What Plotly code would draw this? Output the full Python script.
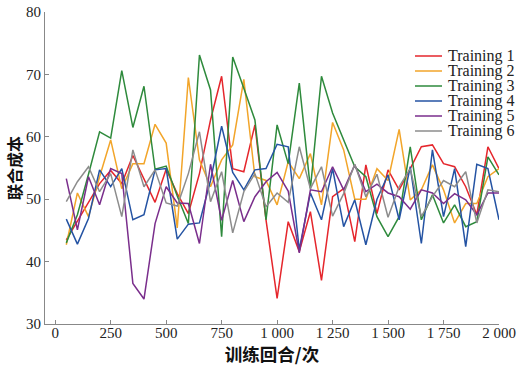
import plotly.graph_objects as go

episodes = list(range(50, 2001, 50))

training1 = [43.5, 46.5, 49.5, 52.5, 54.6, 52.5, 57.0, 53.3, 49.5, 54.8, 50.9, 47.7, 54.1, 62.7, 69.7, 54.9, 54.4, 61.9, 46.7, 34.1,
             46.4, 41.6, 48.0, 37.0, 50.4, 51.7, 43.2, 55.5, 47.7, 54.7, 51.5, 54.9, 58.4, 58.7, 55.7, 55.2, 52.0, 47.5, 58.4, 54.9]
training2 = [42.7, 51.0, 47.2, 53.6, 59.5, 51.7, 55.7, 55.7, 62.0, 59.0, 45.4, 69.5, 56.3, 52.0, 56.3, 58.7, 69.2, 53.6, 53.0, 49.1,
             56.0, 53.3, 57.3, 49.1, 62.3, 57.9, 50.0, 50.0, 54.9, 53.0, 61.2, 49.9, 51.5, 55.5, 51.5, 46.2, 49.3, 49.3, 53.6, 54.9]
training3 = [43.0, 47.5, 54.0, 60.8, 59.8, 70.6, 61.5, 68.1, 54.8, 55.3, 50.5, 46.1, 73.1, 67.5, 44.0, 72.8, 67.8, 62.7, 46.7, 61.9,
             55.7, 68.6, 51.7, 69.7, 63.8, 59.5, 55.2, 53.6, 47.2, 44.0, 47.2, 58.4, 46.7, 50.7, 46.2, 49.1, 45.6, 46.4, 56.8, 53.9]
training4 = [46.8, 42.8, 46.9, 54.7, 52.0, 54.9, 46.7, 47.5, 54.7, 54.9, 43.6, 46.0, 46.2, 53.0, 61.7, 54.3, 51.5, 54.7, 54.9, 58.8,
             58.4, 41.9, 51.0, 46.7, 54.9, 45.6, 49.9, 42.7, 50.0, 53.9, 46.7, 55.2, 42.9, 57.9, 47.2, 54.9, 42.4, 55.6, 54.9, 46.7]
training5 = [53.3, 45.1, 53.6, 49.1, 54.9, 54.1, 36.5, 34.0, 46.1, 52.0, 49.4, 49.3, 42.9, 55.6, 46.6, 53.0, 46.4, 50.4, 52.8, 54.3,
             51.3, 41.4, 51.5, 51.2, 55.2, 51.5, 55.5, 51.2, 52.4, 51.0, 50.4, 48.4, 51.5, 51.0, 49.3, 50.9, 49.9, 47.5, 51.0, 51.0]
training6 = [49.6, 52.8, 55.2, 51.2, 54.1, 47.2, 57.9, 52.0, 54.7, 49.4, 48.9, 54.1, 60.8, 49.6, 54.4, 44.6, 51.2, 54.1, 48.8, 51.0,
             49.5, 58.4, 51.7, 55.2, 47.3, 50.9, 55.6, 50.4, 54.0, 47.1, 52.0, 54.9, 47.2, 50.4, 53.0, 52.0, 54.4, 46.2, 51.5, 51.2]

series_names = ["Training 1", "Training 2", "Training 3", "Training 4", "Training 5", "Training 6"]
series_values = [training1, training2, training3, training4, training5, training6]
colors = ["#e5262c", "#f2a52a", "#2e8a3c", "#2453a3", "#7a2e8c", "#8c8c8c"]

x_tickvals = [0, 250, 500, 750, 1000, 1250, 1500, 1750, 2000]
x_ticktext = ["0", "250", "500", "750", "1 000", "1 250", "1 500", "1 750", "2 000"]
y_tickvals = [30, 40, 50, 60, 70, 80]

W, H = 521, 366
ML, MR, MT, MB = 45, 22, 12, 42
PW, PH = W - ML - MR, H - MT - MB

def px_x(px):
    return (px - ML) / PW

def px_y(py):
    return 1 - (py - MT) / PH

fig = go.Figure()
for name, vals, col in zip(series_names, series_values, colors):
    fig.add_trace(go.Scatter(x=episodes, y=vals, mode="lines", name=name,
                             line=dict(color=col, width=1.5), showlegend=False))

serif = "Liberation Serif, Times New Roman, serif"
cjk = "Noto Sans CJK SC"

# legend drawn as shapes + text (15 px row spacing as in the reference)
shapes = []
annotations = []
for i, (name, col) in enumerate(zip(series_names, colors)):
    yc = 56 + 15 * i
    shapes.append(dict(type="line", xref="paper", yref="paper",
                       x0=px_x(415), x1=px_x(442), y0=px_y(yc), y1=px_y(yc),
                       line=dict(color=col, width=1.5)))
    annotations.append(dict(text=name, xref="paper", yref="paper",
                            x=px_x(446), y=px_y(yc), xanchor="left", yanchor="middle",
                            showarrow=False, font=dict(family=serif, size=16, color="#222")))

fig.update_layout(
    width=W, height=H,
    margin=dict(l=ML, r=MR, t=MT, b=MB, autoexpand=False),
    paper_bgcolor="white", plot_bgcolor="white",
    font=dict(family=serif, size=15, color="#222"),
    showlegend=False,
    shapes=shapes,
    annotations=annotations,
    xaxis=dict(range=[-46, 2000], tickvals=x_tickvals, ticktext=x_ticktext,
               showgrid=False, zeroline=False, showline=True, linecolor="#888", linewidth=1.2,
               ticks="inside", ticklen=4, tickcolor="#888", automargin=False,
               ticklabelstandoff=-5,
               tickfont=dict(family=serif, size=15, color="#222"),
               title=dict(text="训练回合/次", font=dict(family=cjk, size=17.5, color="#111", weight="bold"), standoff=0)),
    yaxis=dict(range=[30, 80], tickvals=y_tickvals,
               showgrid=False, zeroline=False, showline=True, linecolor="#888", linewidth=1.2,
               ticks="inside", ticklen=4, tickcolor="#888", automargin=False,
               tickfont=dict(family=serif, size=15, color="#222"),
               title=dict(text="联合成本", font=dict(family=cjk, size=16, color="#111", weight="bold"), standoff=0)),
)

fig.write_html("out.html", config={"displayModeBar": False},
               post_script="document.body.style.margin='0';document.body.style.overflow='hidden';")
